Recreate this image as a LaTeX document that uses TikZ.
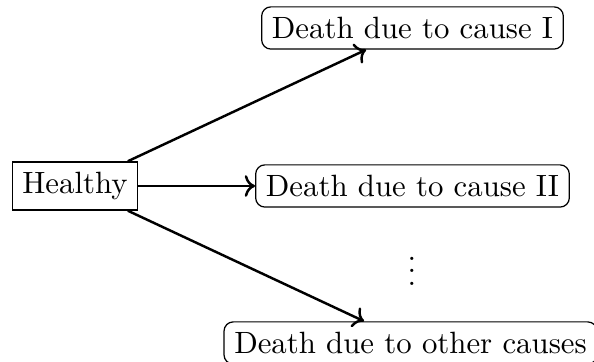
\documentclass[tikz,border=0pt]{standalone}
\usetikzlibrary{arrows.meta}
\begin{document}
\begin{tikzpicture}[x=0.3247pt,y=-0.3247pt,
  state/.style={draw,rectangle,inner sep=3.33pt},
  death/.style={draw,rectangle,rounded corners=3pt,inner sep=3.33pt},
  trans/.style={->,thick}]
\useasboundingbox (0,0) rectangle (594,362);
\node[state] (h) at (75,186) {Healthy};
\node[death] (d1) at (412.5,28) {Death due to cause I};
\node[death] (d2) at (412.5,186) {Death due to cause II};
\node (dots) at (412,262) {$\vdots$};
\node[death] (d3) at (410.5,343) {Death due to other causes};
\draw[trans] (h) -- (d1);
\draw[trans] (h) -- (d2);
\draw[trans] (h) -- (d3);
\end{tikzpicture}
\end{document}
